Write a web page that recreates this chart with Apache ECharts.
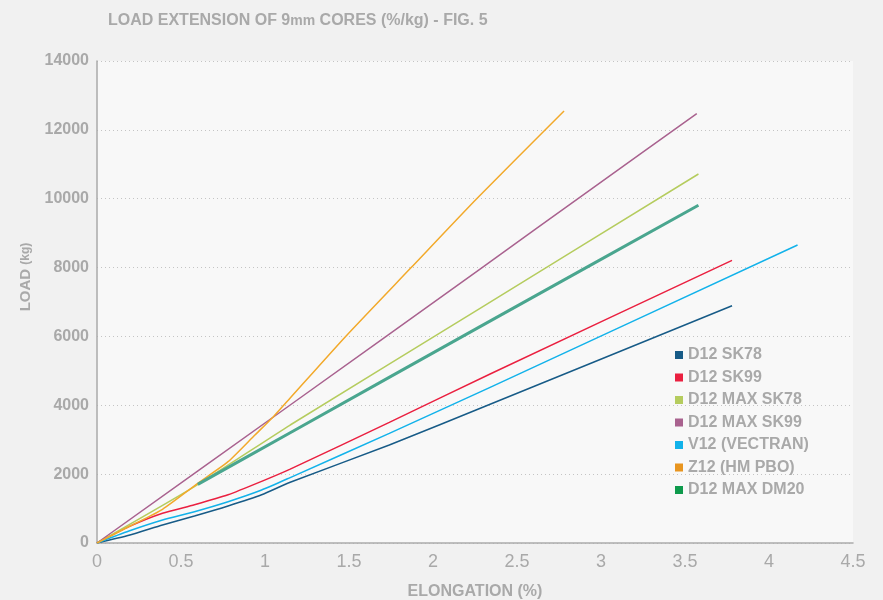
<!DOCTYPE html>
<html>
<head>
<meta charset="utf-8">
<script src="https://cdn.jsdelivr.net/npm/echarts@6/dist/echarts.min.js"></script>
<style>
html,body{margin:0;padding:0;background:#f1f1f1;}
#c{width:883px;height:600px;}
</style>
</head>
<body>
<div id="c"></div>
<script>
// Series names
const seriesNames = ['D12 SK78','D12 SK99','D12 MAX SK78','D12 MAX SK99','V12 (VECTRAN)','Z12 (HM PBO)','D12 MAX DM20'];
// [elongation %, load kg]
const d12sk78 = [[0,0],[0.19,223],[0.39,523],[0.58,784],[0.78,1075],[0.98,1400],[1.15,1763],[1.74,2846],[2.34,4029],[3.78,6893]];
const d12sk99 = [[0,0],[0.19,474],[0.39,862],[0.58,1110],[0.78,1400],[0.98,1790],[1.15,2145],[1.74,3505],[2.34,4909],[3.78,8211]];
const d12maxSk78 = [[0,0],[0.58,1640],[1.15,3427],[2.28,6816],[3.58,10718]];
const d12maxSk99 = [[0,0],[1.15,4008],[2.28,7958],[2.94,10273],[3.57,12470]];
const v12 = [[0,0],[0.19,348],[0.39,668],[0.58,910],[0.78,1200],[0.98,1539],[1.15,1900],[1.74,3186],[2.34,4522],[4.17,8656]];
const z12 = [[0,0],[0.2,500],[0.39,980],[0.6,1734],[0.78,2362],[0.94,3137],[1.05,3669],[1.15,4211],[1.48,6000],[1.87,8000],[2.26,10000],[2.78,12548]];
const d12maxDm20 = [[0.6,1704],[1.15,3204],[2.28,6284],[3.58,9809]];
const seriesData = [d12sk78,d12sk99,d12maxSk78,d12maxSk99,v12,z12,d12maxDm20];
const lineColors = ['#175b87','#ea2040','#b5cc5e','#a9628f','#12b2ea','#f2a92a','#4aa68f'];
const iconColors = ['#175b87','#ea2040','#b5cc5e','#a9628f','#12b2ea','#e8951f','#0e9a4c'];
const lineWidths = [1.5,1.5,1.5,1.5,1.5,1.5,3];
const xTicks = {min:0,max:4.5,interval:0.5};
const yTicks = {min:0,max:14000,interval:2000};

const gray = '#a9a9a9';
const chart = echarts.init(document.getElementById('c'), null, {renderer:'canvas'});
chart.setOption({
  backgroundColor:'#f1f1f1',
  animation:false,
  title:{
    text:'LOAD EXTENSION OF 9{s|mm} CORES (%/kg) - FIG. 5',
    left:103, top:8,
    textStyle:{color:gray,fontSize:16,fontWeight:'bold',fontFamily:'Liberation Sans, Arial, sans-serif',
      rich:{s:{color:gray,fontSize:14,fontWeight:'bold',fontFamily:'Liberation Sans, Arial, sans-serif'}}}
  },
  grid:{left:97,right:30,top:61,bottom:57,show:true,backgroundColor:'#f8f8f8',borderWidth:0,
    containLabel:false, outerBoundsMode:'none'},
  legend:{
    orient:'vertical', left:670, top:342,
    itemWidth:8, itemHeight:8, itemGap:6.5,
    icon:'rect',
    textStyle:{color:gray,fontSize:16,fontWeight:'bold',fontFamily:'Liberation Sans, Arial, sans-serif',lineHeight:15},
    data:seriesNames.map((n,i)=>({name:n,itemStyle:{color:iconColors[i]}}))
  },
  xAxis:{
    type:'value', min:xTicks.min, max:xTicks.max, interval:xTicks.interval,
    name:'ELONGATION (%)', nameLocation:'middle', nameGap:41,
    nameTextStyle:{color:gray,fontSize:16,fontWeight:'bold',fontFamily:'Liberation Sans, Arial, sans-serif'},
    axisLine:{show:true,lineStyle:{color:'#aaaaaa',width:1.5}},
    axisTick:{show:false},
    splitLine:{show:false},
    axisLabel:{color:gray,fontSize:18,margin:10,fontFamily:'Liberation Sans Narrow, Liberation Sans, Arial, sans-serif'}
  },
  yAxis:{
    type:'value', min:yTicks.min, max:yTicks.max, interval:yTicks.interval,
    name:'LOAD {s|(kg)}', nameLocation:'middle', nameGap:62, nameRotate:90,
    nameTextStyle:{color:gray,fontSize:15,fontWeight:'bold',fontFamily:'Liberation Sans, Arial, sans-serif',padding:[0,0,0,50],
      rich:{s:{color:gray,fontSize:12,fontWeight:'bold',fontFamily:'Liberation Sans, Arial, sans-serif'}}},
    axisLine:{show:true,lineStyle:{color:'#aaaaaa',width:1.5}},
    axisTick:{show:false},
    splitLine:{show:true,lineStyle:{color:'#c4c4c4',type:[1,3],width:1}},
    axisLabel:{color:gray,fontSize:16,fontWeight:'bold',margin:8,fontFamily:'Liberation Sans, Arial, sans-serif',
      formatter:v=>String(v)}
  },
  series:seriesData.map((d,i)=>({
    name:seriesNames[i], type:'line', data:d, showSymbol:false, symbol:'none',
    smooth:0.2,
    lineStyle:{color:lineColors[i],width:lineWidths[i]},
    itemStyle:{color:iconColors[i]},
    z: i===6 ? 3 : 2
  }))
});
</script>
</body>
</html>
